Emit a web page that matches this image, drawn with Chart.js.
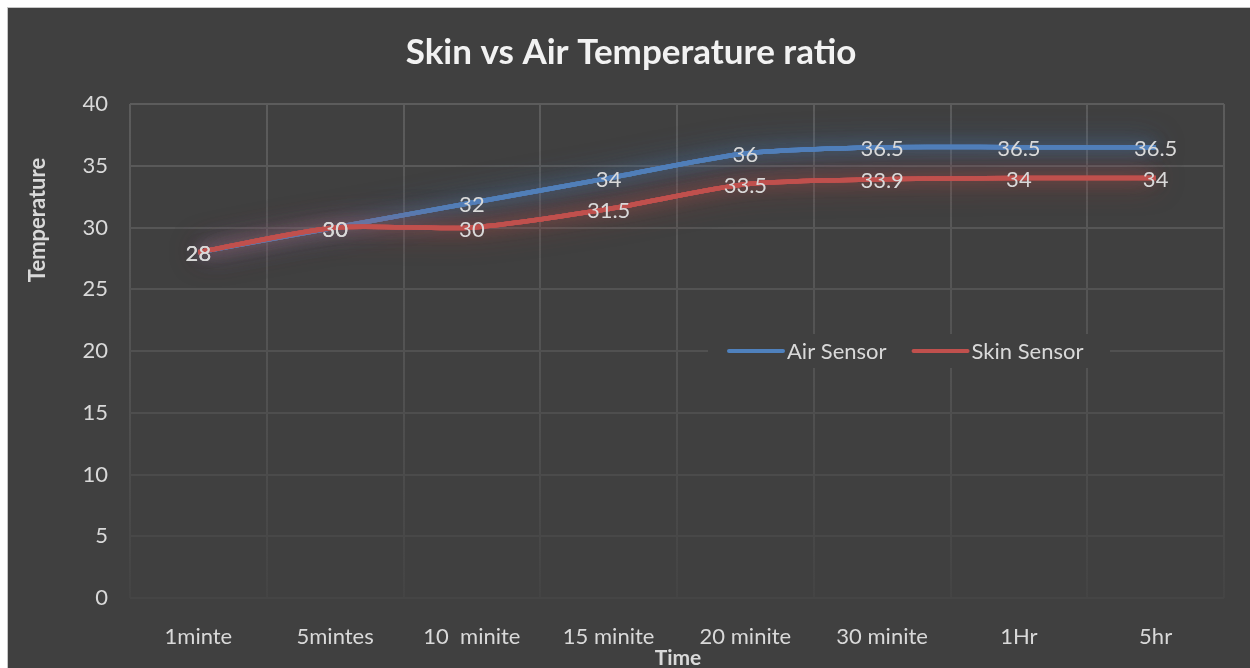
<!DOCTYPE html>
<html>
<head>
<meta charset="utf-8">
<script src="https://cdn.jsdelivr.net/npm/chart.js@4.4.1/dist/chart.umd.min.js"></script>
<style>
    html, body { margin: 0; padding: 0; background: #ffffff; }
    #wrap {
        position: absolute; left: 7px; top: 7px;
        width: 1243px; height: 661px;
        border-left: 1px solid #c6c6c6; border-top: 1px solid #c6c6c6;
        background: #404040;
    }
    #chart { display: block; }
</style>
</head>
<body>
<div id="wrap"><canvas id="chart" width="1242" height="660"></canvas></div>
<script>
'use strict';

var categories = ['1minte', '5mintes', '10  minite', '15 minite', '20 minite', '30 minite', '1Hr', '5hr'];
var airValues  = [28, 30, 32, 34, 36, 36.5, 36.5, 36.5];
var skinValues = [28, 30, 30, 31.5, 33.5, 33.9, 34, 34];
var seriesNames = ['Air Sensor', 'Skin Sensor'];
var yTicks = [0, 5, 10, 15, 20, 25, 30, 35, 40];

var FONT = 'Lato, "Noto Sans", sans-serif';
var TEXT = '#d9d9d9';
var BLUE = '#4f81bd';
var RED  = '#c0504d';

// soft glow under each line: stroke the line a few times with a big shadow first
var glowPlugin = {
    id: 'glow',
    beforeDatasetDraw: function(chart, args) {
        var ds = chart.data.datasets[args.index];
        var line = args.meta.dataset;
        var ctx = chart.ctx;
        ctx.save();
        ctx.shadowColor = ds.glowColor;
        ctx.shadowBlur = 30;
        line.draw(ctx, chart.chartArea);
        line.draw(ctx, chart.chartArea);
        ctx.shadowBlur = 14;
        line.draw(ctx, chart.chartArea);
        ctx.restore();
    }
};

// value labels centred on every point
var labelPlugin = {
    id: 'valueLabels',
    afterDatasetsDraw: function(chart) {
        var ctx = chart.ctx;
        ctx.save();
        ctx.font = '22px ' + FONT;
        ctx.fillStyle = TEXT;
        ctx.textAlign = 'center';
        ctx.textBaseline = 'middle';
        chart.data.datasets.forEach(function(ds, i) {
            var meta = chart.getDatasetMeta(i);
            meta.data.forEach(function(pt, j) {
                ctx.fillText(String(ds.data[j]), pt.x, pt.y + 2);
            });
        });
        ctx.restore();
    }
};

// titles + legend box sitting inside the plot
var decorPlugin = {
    id: 'decor',
    afterDraw: function(chart) {
        var ctx = chart.ctx;
        ctx.save();
        ctx.fillStyle = '#f2f2f2';
        ctx.font = 'bold 35px ' + FONT;
        ctx.textAlign = 'center';
        ctx.textBaseline = 'middle';
        ctx.fillText('Skin vs Air Temperature ratio', 623, 45);

        ctx.fillStyle = TEXT;
        ctx.font = 'bold 21px ' + FONT;
        ctx.fillText('Time', 670, 650);

        ctx.save();
        ctx.translate(30, 212);
        ctx.rotate(-Math.PI / 2);
        ctx.font = 'bold 22px ' + FONT;
        ctx.fillText('Temperature', 0, 0);
        ctx.restore();

        // legend
        var y = chart.scales.y.getPixelForValue(20);
        ctx.fillStyle = '#404040';
        ctx.fillRect(700, y - 17, 402, 34);
        ctx.font = '22px ' + FONT;
        ctx.textAlign = 'left';
        var x = 721;
        chart.data.datasets.forEach(function(ds) {
            ctx.strokeStyle = ds.borderColor;
            ctx.lineWidth = 4;
            ctx.lineCap = 'round';
            ctx.beginPath();
            ctx.moveTo(x, y);
            ctx.lineTo(x + 54, y);
            ctx.stroke();
            ctx.fillStyle = TEXT;
            ctx.fillText(ds.label, x + 58, y + 1);
            x += 58 + ctx.measureText(ds.label).width + 27;
        });
        ctx.restore();
    }
};

function verticalGrid(context) {
    var ca = context.chart.chartArea;
    if (!ca) return '#5a5a5a';
    var g = context.chart.ctx.createLinearGradient(0, ca.top, 0, ca.bottom);
    g.addColorStop(0, '#5c5c5c');
    g.addColorStop(0.55, '#525252');
    g.addColorStop(1, '#444444');
    return g;
}

function horizontalGrid(context) {
    var v = context.tick ? context.tick.value : 40;
    var t = v / 40;
    var c = Math.round(0x45 + (0x5c - 0x45) * t);
    return 'rgb(' + c + ',' + c + ',' + c + ')';
}

new Chart(document.getElementById('chart'), {
    type: 'line',
    data: {
        labels: categories,
        datasets: [
            {
                label: seriesNames[0],
                data: airValues,
                borderColor: BLUE,
                glowColor: 'rgba(79,129,189,0.55)',
                borderWidth: 4.5,
                pointRadius: 0,
                tension: 0.25,
                order: 1
            },
            {
                label: seriesNames[1],
                data: skinValues,
                borderColor: RED,
                glowColor: 'rgba(192,80,77,0.55)',
                borderWidth: 4.5,
                pointRadius: 0,
                tension: 0.25,
                order: 0
            }
        ]
    },
    options: {
        responsive: false,
        animation: false,
        layout: { padding: { left: 0, top: 96, right: 26, bottom: 0 } },
        plugins: {
            legend: { display: false },
            title: { display: false },
            tooltip: { enabled: false }
        },
        scales: {
            x: {
                offset: true,
                grid: { color: verticalGrid, lineWidth: 2, drawTicks: false, offset: true },
                border: { display: false },
                ticks: { color: TEXT, font: { family: FONT, size: 22 }, padding: 26, maxRotation: 0, autoSkip: false },
                afterFit: function(scale) { scale.height = 70; }
            },
            y: {
                min: 0,
                max: 40,
                afterBuildTicks: function(scale) {
                    scale.ticks = yTicks.map(function(v) { return { value: v }; });
                },
                grid: { color: horizontalGrid, lineWidth: 2, drawTicks: false },
                border: { display: false },
                ticks: { color: TEXT, font: { family: FONT, size: 22 }, padding: 22 },
                afterFit: function(scale) { scale.width = 122; }
            }
        }
    },
    plugins: [glowPlugin, labelPlugin, decorPlugin]
});
</script>
</body>
</html>
